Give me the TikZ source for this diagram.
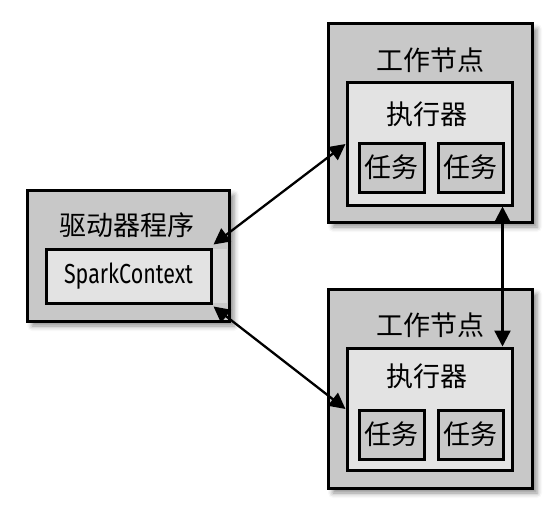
\documentclass[tikz,border=0pt]{standalone}
\usepackage{fontspec}
\newfontfamily\cjk{Noto Sans CJK SC}
\newfontfamily\scfont[FakeStretch=0.78]{Fira Sans}
\usetikzlibrary{arrows.meta,shadows.blur,calc}
\definecolor{outerg}{HTML}{C8C8C8}
\definecolor{innerg}{HTML}{E3E3E3}
\definecolor{stripg}{HTML}{D8D8D8}
\begin{document}
\begin{tikzpicture}[x=1pt,y=-1pt,
  outerbox/.style={draw=black, line width=3pt, fill=outerg, inner sep=0pt,
    blur shadow={shadow xshift=5pt, shadow yshift=-5pt, shadow blur radius=5pt, shadow opacity=45}},
  innerbox/.style={draw=black, line width=3pt, fill=innerg, inner sep=0pt},
  taskbox/.style={draw=black, line width=3pt, fill=outerg, inner sep=0pt,
    minimum width=65pt, minimum height=49pt, font=\cjk\fontsize{27}{27}\selectfont},
  lbl/.style={inner sep=0pt, font=\cjk\fontsize{27}{27}\selectfont},
  conn/.style={line width=2.3pt, {Triangle[length=16pt,width=16pt]}-{Triangle[length=16pt,width=16pt]}}
]
\useasboundingbox (0,0) rectangle (556,516);
% driver
\node[outerbox, minimum width=202pt, minimum height=131pt] (drv) at (128,255.5) {};
\node[lbl] (drvl) at (127,225) {驱动器程序};
\fill[stripg] (211,249) rectangle (227,303);
\node[innerbox, minimum width=165pt, minimum height=54pt,
  font=\scfont\fontsize{27.5}{27.5}\selectfont] (sc) at (128.5,276) {SparkContext};
% worker 1
\node[outerbox, minimum width=204pt, minimum height=198pt] (w1) at (430,123) {};
\node[lbl] (w1l) at (430,60) {工作节点};
\node[innerbox, minimum width=165pt, minimum height=122pt] (ex1) at (429.5,144) {};
\node[lbl] (ex1l) at (427,114) {执行器};
\node[taskbox] (t11) at (391.5,167.5) {任务};
\node[taskbox] (t12) at (470.5,167.5) {任务};
% worker 2
\node[outerbox, minimum width=204pt, minimum height=199pt] (w2) at (430,388.5) {};
\node[lbl] (w2l) at (430,325) {工作节点};
\node[innerbox, minimum width=165pt, minimum height=122pt] (ex2) at (429.5,409) {};
\node[lbl] (ex2l) at (427,376) {执行器};
\node[taskbox] (t21) at (391.5,434.5) {任务};
\node[taskbox] (t22) at (470.5,434.5) {任务};
% connectors
\coordinate (a1) at ($(sc.north east)+(1,-3)$);
\coordinate (a2) at ($(sc.south east)+(1,2)$);
\draw[conn] (a1) -- (ex1.west);
\draw[conn] (a2) -- (ex2.west);
\draw[conn] ($(ex1.south east)+(-11,0)$) -- ($(ex2.north east)+(-11,0)$);
\end{tikzpicture}
\end{document}
